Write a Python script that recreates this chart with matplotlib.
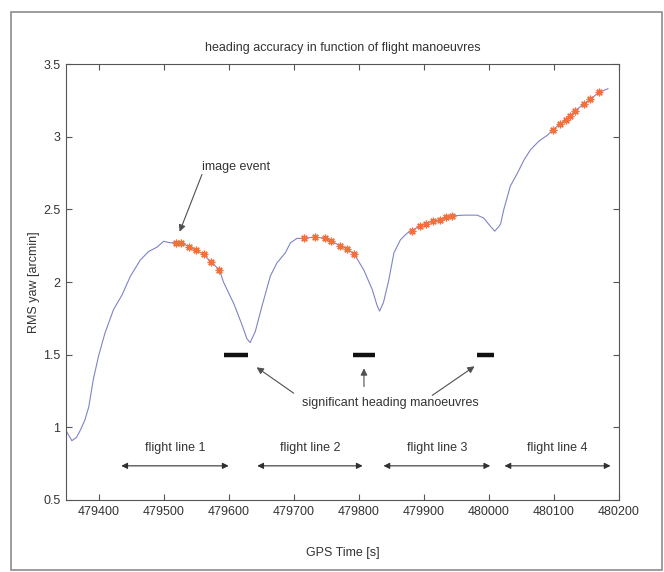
import matplotlib
matplotlib.use("Agg")
import matplotlib.pyplot as plt
from matplotlib.patches import Rectangle

# RMS yaw curve
rms_time = [479351, 479359, 479366, 479372, 479379, 479385, 479392, 479400, 479410,
            479423, 479436, 479449, 479464, 479477, 479490, 479500, 479510,
            479519.5, 479526.8, 479538.5, 479549.8, 479561.5, 479572.9, 479585.7,
            479592, 479608, 479621, 479628, 479633, 479641, 479651, 479664, 479674,
            479687, 479695, 479705,
            479716.5, 479732.3, 479748.8, 479758, 479770.8, 479782.2, 479793.4,
            479808, 479821, 479828, 479832, 479838, 479846, 479854, 479864, 479874,
            479882, 479894, 479903, 479914, 479925, 479934, 479944,
            479962, 479982, 479992, 480003, 480009, 480015, 480018, 480023, 480028,
            480033, 480044, 480054, 480064, 480077, 480090,
            480098, 480110, 480118, 480124, 480133, 480146, 480156, 480169, 480183]
rms_yaw = [0.97, 0.908, 0.93, 0.98, 1.05, 1.14, 1.33, 1.49, 1.65,
           1.81, 1.91, 2.04, 2.15, 2.21, 2.24, 2.28, 2.27,
           2.271, 2.271, 2.244, 2.22, 2.19, 2.136, 2.085,
           2.00, 1.85, 1.70, 1.61, 1.583, 1.66, 1.83, 2.04, 2.13,
           2.20, 2.27, 2.30,
           2.30, 2.31, 2.30, 2.28, 2.25, 2.23, 2.19,
           2.08, 1.945, 1.84, 1.80, 1.86, 2.01, 2.20, 2.29, 2.335,
           2.353, 2.388, 2.40, 2.42, 2.427, 2.45, 2.455,
           2.46, 2.46, 2.44, 2.38, 2.35, 2.38, 2.40, 2.50, 2.58,
           2.66, 2.75, 2.84, 2.91, 2.97, 3.01,
           3.046, 3.09, 3.115, 3.14, 3.18, 3.225, 3.257, 3.305, 3.33]

# image events (asterisks)
event_time = [479519.5, 479526.8, 479538.5, 479549.8, 479561.5, 479572.9, 479585.7,
              479716.5, 479732.3, 479748.8, 479758, 479770.8, 479782.2, 479793.4,
              479882, 479894, 479903, 479914, 479925, 479934, 479944,
              480098, 480110, 480118, 480124, 480133, 480146, 480156, 480169]
event_yaw = [2.271, 2.271, 2.244, 2.22, 2.19, 2.136, 2.085,
             2.30, 2.31, 2.30, 2.28, 2.25, 2.23, 2.19,
             2.353, 2.388, 2.40, 2.42, 2.427, 2.45, 2.455,
             3.046, 3.09, 3.115, 3.14, 3.18, 3.225, 3.257, 3.305]

# significant heading manoeuvres
manoeuvre_start = [479593, 479791, 479982]
manoeuvre_end = [479629, 479825, 480008]
manoeuvre_level = 1.5

# flight lines
line_labels = ["flight line 1", "flight line 2", "flight line 3", "flight line 4"]
line_start = [479435, 479644, 479838, 480024]
line_end = [479600, 479806, 480002, 480187]

plt.rcParams["font.family"] = ["Liberation Sans", "DejaVu Sans"]
txt = "#333333"
ax_col = "#555555"

fig = plt.figure(figsize=(6.64, 5.72), dpi=100)
ax = fig.add_axes([66 / 664, 1 - 500 / 572, (619 - 66) / 664, (500 - 64) / 572])

# figure frame
fig.patches.append(Rectangle((11 / 664, 2 / 572), (662 - 11) / 664, (570 - 12) / 572,
                             transform=fig.transFigure, fill=False,
                             edgecolor="#8c8c8c", linewidth=1.2))

ax.plot(rms_time, rms_yaw, color="#7f83c8", linewidth=0.8)
ax.plot(event_time, event_yaw, linestyle="none", marker=(8, 2, 0),
        markersize=5.5, markeredgewidth=0.9, color="#f2703c")

for x0, x1 in zip(manoeuvre_start, manoeuvre_end):
    ax.plot([x0, x1], [manoeuvre_level, manoeuvre_level], color="#111111",
            linewidth=3.2, solid_capstyle="butt")

arrow_kw = dict(arrowstyle="-|>", color="#505050", lw=0.8, mutation_scale=10,
                shrinkA=0, shrinkB=0)

ax.text(479849, 1.17, "significant heading manoeuvres", ha="center", va="center",
        fontsize=9, color=txt)
for tail, head in [((479700, 1.235), (479643, 1.413)),
                   ((479808, 1.28), (479808, 1.406)),
                   ((479913, 1.22), (479978, 1.42))]:
    ax.annotate("", xy=head, xytext=tail, arrowprops=arrow_kw)

ax.text(479612, 2.794, "image event", ha="center", va="center", fontsize=9, color=txt)
ax.annotate("", xy=(479524.6, 2.346), xytext=(479559, 2.74), arrowprops=arrow_kw)

for lab, x0, x1 in zip(line_labels, line_start, line_end):
    ax.annotate("", xy=(x1, 0.735), xytext=(x0, 0.735),
                arrowprops=dict(arrowstyle="<|-|>", color="#303030", lw=0.8,
                                mutation_scale=9, shrinkA=0, shrinkB=0))
    ax.text((x0 + x1) / 2, 0.855, lab, ha="center", va="center", fontsize=9, color=txt)

ax.set_xlim(479350, 480200)
ax.set_ylim(0.5, 3.5)
ax.set_xticks(range(479400, 480201, 100))
ax.set_yticks([0.5, 1, 1.5, 2, 2.5, 3, 3.5])
ax.set_yticklabels(["0.5", "1", "1.5", "2", "2.5", "3", "3.5"])
ax.ticklabel_format(axis="x", useOffset=False, style="plain")

ax.tick_params(direction="in", top=True, right=True, length=4, width=0.8,
               color=ax_col, labelcolor=txt, labelsize=9, pad=4)
for sp in ax.spines.values():
    sp.set_color(ax_col)
    sp.set_linewidth(0.8)

ax.set_title("heading accuracy in function of flight manoeuvres", fontsize=9,
             color=txt, pad=9)
ax.set_xlabel("GPS Time [s]", fontsize=9, color=txt)
ax.xaxis.set_label_coords(0.5, -(546.7 - 500) / 436)
ax.set_ylabel("RMS yaw [arcmin]", fontsize=9, color=txt)
ax.yaxis.set_label_coords(-(66 - 40) / 553, 0.5)

fig.savefig("out.png", dpi=100)
